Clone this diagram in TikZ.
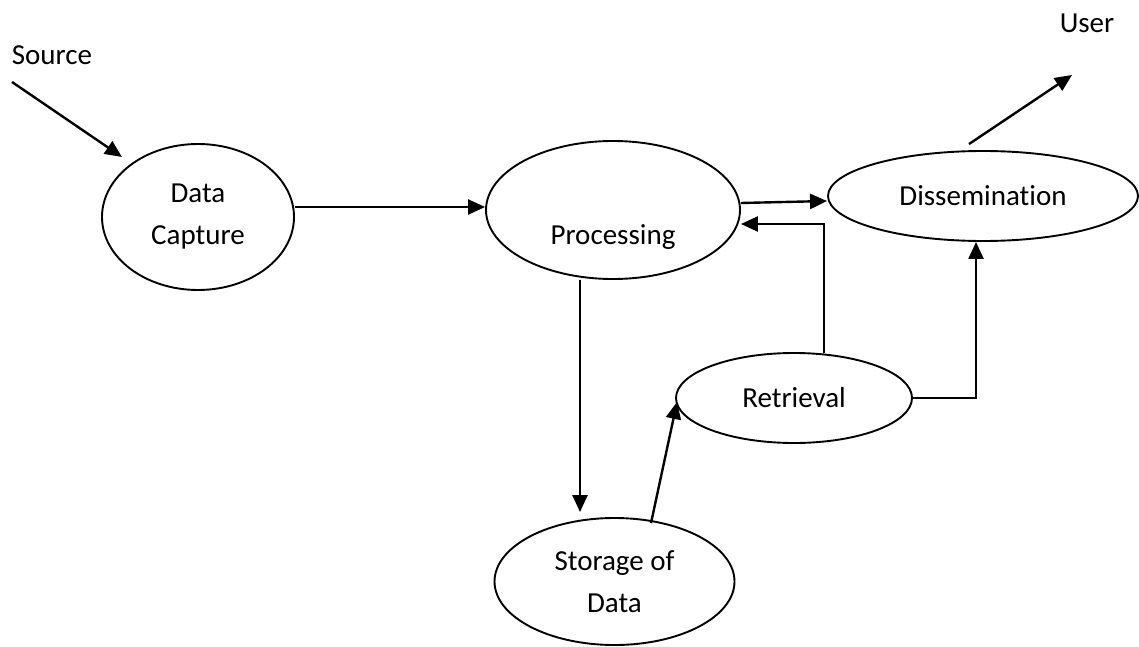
\documentclass[tikz,border=0pt]{standalone}
\usepackage{fontspec}
\setmainfont[Ligatures={NoCommon}]{Carlito}
\usetikzlibrary{arrows.meta,shapes.geometric}
\tikzset{
  ell/.style={draw, ellipse, line width=1.9pt, inner sep=0pt, align=center},
  arr/.style={line width=2.4pt, -{Triangle[length=17pt,width=15pt]}},
  lbl/.style={inner sep=0pt, align=center}
}
\begin{document}
\begin{tikzpicture}[x=1pt,y=-1pt,font=\fontsize{29}{42}\selectfont]
\useasboundingbox (0,0) rectangle (1139,647);
\node[lbl] (src) at (52,55) {Source};
\node[lbl] (user) at (1087,23) {User};
\node[ell, minimum width=192pt, minimum height=146pt] (dc) at (198,217) {Data\\Capture};
\node[ell, minimum width=254pt, minimum height=138pt,
      label={[lbl,yshift=-27pt,name=proctext]center:Processing}] (proc) at (613,210) {};
\node[ell, minimum width=310pt, minimum height=90pt] (dis) at (983,196) {Dissemination};
\node[ell, minimum width=236pt, minimum height=90pt] (ret) at (794,398) {Retrieval};
\node[ell, minimum width=240pt, minimum height=127pt] (sto) at (614.5,581.5) {Storage of\\Data};
\coordinate (s1) at (12,82);
\coordinate (s2) at (122,157);
\coordinate (utip) at (1072,75);
\draw[arr] (s1) -- (s2);
\draw[arr] ([yshift=10pt]dc.east) -- ([yshift=3pt]proc.west);
\draw[arr] ([yshift=7pt]proc.east) -- ([yshift=-5pt]dis.west);
\draw[arr] ([xshift=30pt,yshift=-1pt]ret.north) |- ([yshift=-14pt]proc.east);
\draw[arr] (ret.east) -| ([xshift=-7pt]dis.south);
\draw[arr] ([xshift=-33pt]proc.south) -- ([xshift=-34.5pt,yshift=5pt]sto.north);
\draw[arr] ([xshift=36.5pt,yshift=-6pt]sto.north) -- ([xshift=2pt,yshift=-4pt]ret.west);
\draw[arr] ([xshift=-14pt,yshift=6pt]dis.north) -- (utip);
\end{tikzpicture}
\end{document}
